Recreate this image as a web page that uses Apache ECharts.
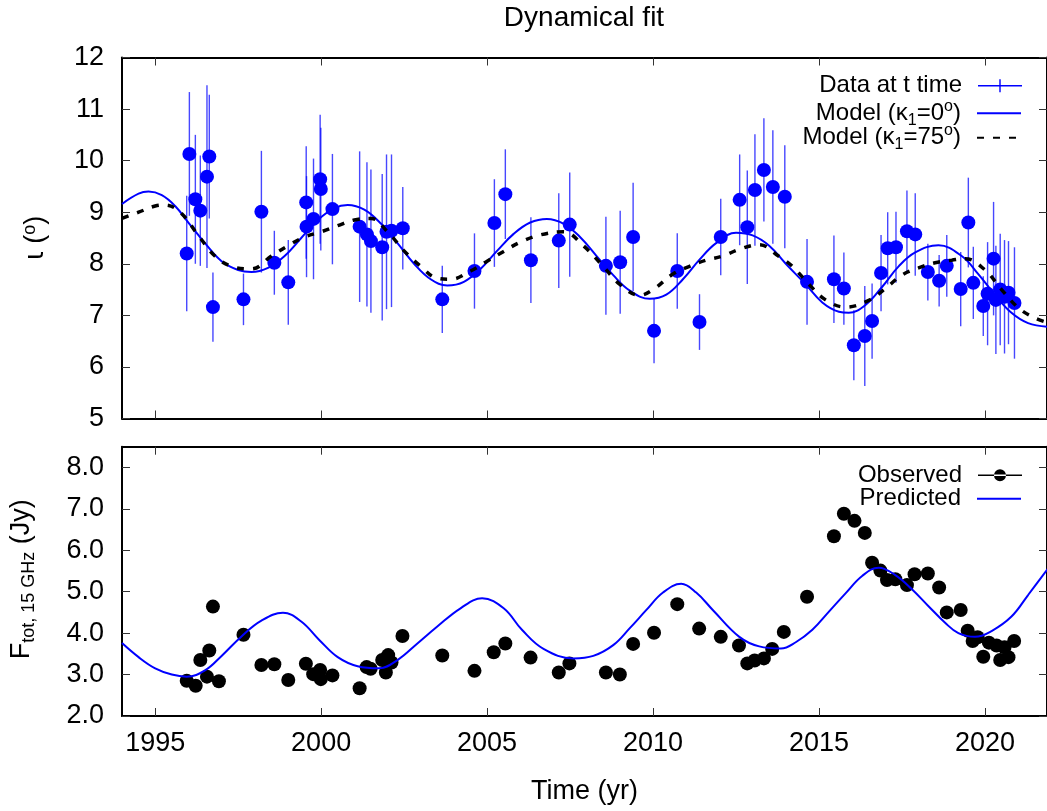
<!DOCTYPE html>
<html>
<head>
<meta charset="utf-8">
<title>Dynamical fit</title>
<script src="https://cdn.jsdelivr.net/npm/echarts@6/dist/echarts.min.js"></script>
<style>
  html, body { margin: 0; padding: 0; background: #fff; }
  #main { width: 1047px; height: 811px; }
</style>
</head>
<body>
<div id="main"></div>
<script>
// --- inclination data (top panel) ---
var yrI = [1995.95, 1996.03, 1996.21, 1996.36, 1996.56, 1996.63, 1996.74, 1997.66, 1998.20, 1998.59,
  1999.01, 1999.56, 1999.55, 1999.77, 1999.97, 1999.99, 2000.34, 2001.16, 2001.38, 2001.50,
  2001.84, 2001.97, 2002.12, 2002.46, 2003.65, 2004.62, 2005.22, 2005.55, 2006.32, 2007.16,
  2007.49, 2008.58, 2009.01, 2009.40, 2010.03, 2010.73, 2011.40, 2012.04, 2012.61, 2012.84,
  2013.07, 2013.34, 2013.61, 2013.97, 2014.64, 2015.45, 2015.75, 2016.05, 2016.38, 2016.60,
  2016.87, 2017.07, 2017.32, 2017.65, 2017.90, 2018.28, 2018.62, 2018.85, 2019.27, 2019.50,
  2019.65, 2019.95, 2020.08, 2020.26, 2020.33, 2020.46, 2020.59, 2020.71, 2020.89];
var incl = [8.20, 10.13, 9.25, 9.03, 9.69, 10.08, 7.16, 7.31, 9.01, 8.02,
  7.64, 8.72, 9.19, 8.87, 9.64, 9.45, 9.06, 8.72, 8.57, 8.44,
  8.32, 8.62, 8.64, 8.69, 7.31, 7.86, 8.79, 9.35, 8.07, 8.45,
  8.76, 7.96, 8.03, 8.52, 6.70, 7.86, 6.87, 8.52, 9.24, 8.71,
  9.43, 9.82, 9.49, 9.30, 7.65, 7.70, 7.52, 6.42, 6.60, 6.89,
  7.82, 8.30, 8.32, 8.63, 8.57, 7.84, 7.67, 7.96, 7.51, 8.80,
  7.63, 7.18, 7.42, 8.10, 7.30, 7.50, 7.36, 7.44, 7.24];
var inclErr = [1.12, 1.20, 1.25, 1.07, 1.77, 1.20, 0.67, 0.50, 1.18, 0.62,
  0.82, 0.98, 1.09, 1.17, 1.25, 1.19, 1.07, 1.46, 1.40, 1.39,
  1.42, 1.50, 1.48, 0.80, 0.65, 0.73, 0.85, 0.87, 0.83, 0.92,
  1.01, 0.95, 1.00, 1.05, 0.63, 0.73, 0.54, 0.74, 0.88, 1.10,
  1.08, 1.00, 1.10, 1.00, 0.83, 0.85, 0.70, 0.68, 0.97, 0.73,
  0.74, 0.70, 0.69, 0.79, 0.80, 0.55, 0.50, 0.60, 0.72, 0.87,
  0.70, 0.58, 1.00, 1.10, 1.05, 1.08, 1.10, 1.00, 1.08];

// model, kappa1 = 0 deg (solid blue)
var modT0 = [1994.0, 1994.5, 1994.8, 1995.2, 1995.6, 1996.0, 1996.5, 1997.0, 1997.5, 1997.9,
  1998.4, 1998.9, 1999.4, 1999.9, 2000.4, 2000.8, 2001.3, 2001.8, 2002.3, 2002.8,
  2003.3, 2003.8, 2004.3, 2004.8, 2005.3, 2005.8, 2006.3, 2006.8, 2007.3, 2007.8,
  2008.3, 2008.8, 2009.3, 2009.9, 2010.4, 2010.9, 2011.4, 2011.9, 2012.5, 2013.0,
  2013.5, 2014.0, 2014.6, 2015.1, 2015.6, 2015.9, 2016.4, 2016.9, 2017.4, 2017.9,
  2018.6, 2019.3, 2019.8, 2020.3, 2020.8, 2021.3, 2021.9];
var modI0 = [9.16, 9.36, 9.40, 9.33, 9.12, 8.80, 8.40, 8.05, 7.88, 7.84,
  7.92, 8.15, 8.50, 8.85, 9.08, 9.14, 9.05, 8.78, 8.40, 8.00,
  7.70, 7.58, 7.65, 7.90, 8.25, 8.58, 8.80, 8.87, 8.78, 8.52,
  8.15, 7.78, 7.48, 7.32, 7.40, 7.70, 8.08, 8.40, 8.60, 8.55,
  8.35, 8.00, 7.60, 7.25, 7.07, 7.05, 7.20, 7.55, 7.95, 8.22,
  8.36, 8.15, 7.80, 7.40, 7.05, 6.85, 6.78];

// model, kappa1 = 75 deg (dashed black)
var modT75 = [1994.0, 1994.5, 1995.0, 1995.3, 1995.75, 1996.3, 1996.8, 1997.3, 1997.9, 1998.5,
  1999.0, 1999.5, 2000.0, 2000.5, 2001.0, 2001.5, 2002.0, 2002.5, 2003.0, 2003.5,
  2003.9, 2004.5, 2005.0, 2005.5, 2006.0, 2006.6, 2007.3, 2007.9, 2008.5, 2009.0,
  2009.6, 2010.0, 2010.6, 2011.1, 2011.6, 2012.1, 2012.6, 2013.2, 2013.8, 2014.2,
  2014.7, 2015.2, 2015.8, 2016.5, 2017.0, 2017.5, 2018.0, 2018.5, 2019.0, 2019.4,
  2020.0, 2020.5, 2021.0, 2021.5, 2021.9];
var modI75 = [8.88, 9.00, 9.12, 9.14, 9.00, 8.55, 8.15, 7.95, 7.90, 8.15,
  8.35, 8.52, 8.62, 8.74, 8.85, 8.88, 8.62, 8.25, 7.95, 7.72,
  7.70, 7.86, 8.05, 8.24, 8.42, 8.56, 8.62, 8.35, 7.95, 7.60,
  7.39, 7.50, 7.80, 7.95, 8.07, 8.15, 8.28, 8.37, 8.14, 7.95,
  7.60, 7.30, 7.16, 7.29, 7.52, 7.78, 7.92, 8.02, 8.07, 8.10,
  7.88, 7.50, 7.15, 6.95, 6.86];

// --- flux density (bottom panel) ---
var yrF = [1995.95, 1996.22, 1996.56, 1996.36, 1996.63, 1996.74, 1996.92, 1997.66, 1998.20, 1998.59,
  1999.01, 1999.54, 1999.76, 1999.97, 1999.99, 2000.34, 2001.16, 2001.37, 2001.49, 2001.84,
  2002.02, 2002.12, 2001.95, 2002.45, 2003.65, 2004.62, 2005.20, 2005.55, 2006.31, 2007.16,
  2007.48, 2008.58, 2009.00, 2009.40, 2010.03, 2010.73, 2011.39, 2012.04, 2012.59, 2012.84,
  2013.06, 2013.34, 2013.59, 2013.94, 2014.64, 2015.45, 2015.75, 2016.07, 2016.38, 2016.60,
  2016.85, 2017.05, 2017.30, 2017.65, 2017.88, 2018.28, 2018.62, 2018.85, 2019.27, 2019.48,
  2019.63, 2019.78, 2019.95, 2020.12, 2020.35, 2020.46, 2020.59, 2020.71, 2020.88];
var flux = [2.85, 2.73, 2.95, 3.35, 3.58, 4.64, 2.84, 3.96, 3.23, 3.25,
  2.87, 3.26, 3.01, 3.11, 2.89, 2.98, 2.67, 3.18, 3.14, 3.35,
  3.47, 3.29, 3.05, 3.93, 3.46, 3.09, 3.54, 3.75, 3.41, 3.05,
  3.27, 3.05, 3.00, 3.74, 4.01, 4.70, 4.11, 3.91, 3.70, 3.27,
  3.34, 3.39, 3.62, 4.03, 4.88, 6.34, 6.88, 6.71, 6.42, 5.70,
  5.51, 5.28, 5.30, 5.16, 5.42, 5.44, 5.10, 4.50, 4.56, 4.06,
  3.81, 3.90, 3.43, 3.77, 3.70, 3.35, 3.66, 3.42, 3.81];

// predicted flux (blue)
var predT = [1994.0, 1994.5, 1995.0, 1995.5, 1995.95, 1996.5, 1997.0, 1997.6, 1998.2, 1998.85,
  1999.4, 1999.95, 2000.5, 2001.1, 2001.75, 2002.3, 2002.9, 2003.5, 2004.2, 2004.85,
  2005.5, 2006.05, 2006.7, 2007.6, 2008.2, 2008.8, 2009.3, 2009.8, 2010.3, 2010.85,
  2011.3, 2011.8, 2012.6, 2013.2, 2013.85, 2014.3, 2014.8, 2015.3, 2015.8, 2016.3,
  2016.8, 2017.3, 2017.8, 2018.3, 2018.8, 2019.2, 2019.7, 2020.2, 2020.8, 2021.3, 2021.9];
var predF = [3.76, 3.42, 3.15, 3.00, 2.95, 3.10, 3.45, 3.92, 4.30, 4.49,
  4.28, 3.83, 3.42, 3.20, 3.15, 3.35, 3.75, 4.16, 4.60, 4.84,
  4.60, 4.08, 3.62, 3.39, 3.45, 3.71, 4.12, 4.56, 4.98, 5.19,
  4.98, 4.56, 3.91, 3.68, 3.63, 3.78, 4.08, 4.52, 4.96, 5.38,
  5.58, 5.40, 5.06, 4.65, 4.25, 4.00, 3.91, 4.05, 4.40, 4.92, 5.56];

var yearTicks = [1995, 2000, 2005, 2010, 2015, 2020];
var inclTicks = [5, 6, 7, 8, 9, 10, 11, 12];
var fluxTicks = [2, 3, 4, 5, 6, 7, 8];

var FONT = 'Liberation Sans, Arial, Helvetica, sans-serif';
var BLUE = '#0000ff';

function pairs(xs, ys) {
  return xs.map(function (x, i) { return [x, ys[i]]; });
}

var errData = yrI.map(function (x, i) { return [x, incl[i] - inclErr[i], incl[i] + inclErr[i]]; });

function renderErr(params, api) {
  var top = api.coord([api.value(0), api.value(2)]);
  var bot = api.coord([api.value(0), api.value(1)]);
  return {
    type: 'line',
    shape: { x1: top[0], y1: top[1], x2: bot[0], y2: bot[1] },
    style: { stroke: 'rgba(0,0,255,0.72)', lineWidth: 1.4 }
  };
}

// axis helpers
function xAx(grid, pos, labels) {
  return {
    type: 'value', gridIndex: grid, position: pos,
    min: 1994, max: 2021.87,
    axisLine: { show: true, onZero: false, lineStyle: { color: '#000', width: 2 } },
    axisTick: { show: true, inside: true, length: 8, customValues: yearTicks,
      lineStyle: { color: '#333', width: 1 } },
    axisLabel: { show: labels, customValues: yearTicks, margin: 14,
      fontSize: 27, fontFamily: FONT, color: '#000',
      formatter: function (v) { return String(v); } },
    splitLine: { show: false }
  };
}
function yAx(grid, pos, min, max, ticks, labels, fmt) {
  return {
    type: 'value', gridIndex: grid, position: pos,
    min: min, max: max,
    axisLine: { show: true, onZero: false, lineStyle: { color: '#000', width: 2 } },
    axisTick: { show: true, inside: true, length: 8, customValues: ticks,
      lineStyle: { color: '#333', width: 1 } },
    axisLabel: { show: labels, customValues: ticks, margin: 18,
      fontSize: 27, fontFamily: FONT, color: '#000', formatter: fmt },
    splitLine: { show: false }
  };
}

var richTxt = {
  n: { fontSize: 24, fontFamily: FONT, color: '#000', lineHeight: 30 },
  s: { fontSize: 16, fontFamily: FONT, color: '#000', lineHeight: 16, verticalAlign: 'bottom' },
  p: { fontSize: 16, fontFamily: FONT, color: '#000', lineHeight: 16, verticalAlign: 'top' }
};
var labelMap = {
  'Data at t time': '{n|Data at t time}',
  'Model (k1=0)': '{n|Model (κ}{s|1}{n|=0}{p|o}{n|)}',
  'Model (k1=75)': '{n|Model (κ}{s|1}{n|=75}{p|o}{n|)}',
  'Observed': '{n|Observed}',
  'Predicted': '{n|Predicted}'
};
function legendRow(item, top, h, hideSymbol) {
  var lg = {
    data: [item], orient: 'horizontal', align: 'right',
    right: 25, top: top, padding: 0,
    itemWidth: 44, itemHeight: h,
    formatter: function (name) { return labelMap[name]; },
    textStyle: { fontSize: 24, fontFamily: FONT, color: '#000', padding: [0, 11, 0, 0], rich: richTxt }
  };
  if (hideSymbol) lg.itemStyle = { opacity: 0 };
  return lg;
}

var chart = echarts.init(document.getElementById('main'), null, { renderer: 'canvas' });
chart.setOption({
  animation: false,
  backgroundColor: '#fff',
  title: {
    text: 'Dynamical fit', left: 584, top: 4, textAlign: 'center', padding: 0,
    textStyle: { fontSize: 28, fontWeight: 'normal', fontFamily: FONT, color: '#000' }
  },
  grid: [
    { left: 122, right: -2, top: 57.5, height: 361 },
    { left: 122, right: -2, top: 446.7, height: 269.3 }
  ],
  xAxis: [
    xAx(0, 'bottom', false),
    xAx(0, 'top', false),
    Object.assign(xAx(1, 'bottom', true), {
      name: 'Time (yr)', nameLocation: 'middle', nameGap: 62,
      nameTextStyle: { fontSize: 27, fontFamily: FONT, color: '#000' }
    }),
    xAx(1, 'top', false)
  ],
  yAxis: [
    Object.assign(yAx(0, 'left', 5, 12, inclTicks, true), {
      name: '{g|ι}{n| (}{p|o}{n|)}', nameLocation: 'middle', nameRotate: 90, nameGap: 71,
      nameTextStyle: { rich: {
        g: { fontSize: 27, fontFamily: 'DejaVu Sans', color: '#000', lineHeight: 30 },
        n: { fontSize: 27, fontFamily: FONT, color: '#000', lineHeight: 30 },
        p: { fontSize: 18, fontFamily: FONT, color: '#000', lineHeight: 18, verticalAlign: 'top' }
      } }
    }),
    yAx(0, 'right', 5, 12, inclTicks, false),
    Object.assign(yAx(1, 'left', 2, 8.5, fluxTicks, true, function (v) { return v.toFixed(1); }), {
      name: '{n|F}{s|tot, 15 GHz}{n| (Jy)}', nameLocation: 'middle', nameRotate: 90, nameGap: 84,
      nameTextStyle: { padding: [0, 0, 0, 4], rich: {
        n: { fontSize: 27, fontFamily: FONT, color: '#000', lineHeight: 32 },
        s: { fontSize: 18, fontFamily: FONT, color: '#000', lineHeight: 18, verticalAlign: 'bottom' }
      } }
    }),
    yAx(1, 'right', 2, 8.5, fluxTicks, false)
  ],
  legend: [
    legendRow({ name: 'Data at t time', icon: 'path://M0,5.8H44V7.2H0Z M21.3,0H22.7V13H21.3Z',
      itemStyle: { color: BLUE } }, 73.8, 13),
    legendRow('Model (k1=0)', 98.3, 14, true),
    legendRow('Model (k1=75)', 122.7, 14, true),
    legendRow({ name: 'Observed', icon: 'path://M0,5.3H44V6.7H0Z M16,6A6,6 0 1,0 28,6A6,6 0 1,0 16,6Z',
      itemStyle: { color: '#000' } }, 463.3, 12),
    legendRow('Predicted', 486.7, 14, true)
  ],
  series: [
    {
      name: 'Data at t time', type: 'custom', xAxisIndex: 0, yAxisIndex: 0,
      renderItem: renderErr, data: errData, encode: { x: 0, y: [1, 2] },
      itemStyle: { color: BLUE }, z: 2
    },
    {
      name: 'Data at t time', type: 'scatter', xAxisIndex: 0, yAxisIndex: 0,
      data: pairs(yrI, incl), symbolSize: 14, itemStyle: { color: BLUE, opacity: 1 }, z: 3
    },
    {
      name: 'Model (k1=0)', type: 'line', xAxisIndex: 0, yAxisIndex: 0,
      data: pairs(modT0, modI0), smooth: 0.4, symbol: 'none',
      lineStyle: { color: BLUE, width: 2 }, itemStyle: { color: BLUE }, z: 4
    },
    {
      name: 'Model (k1=75)', type: 'line', xAxisIndex: 0, yAxisIndex: 0,
      data: pairs(modT75, modI75), smooth: 0.4, symbol: 'none',
      lineStyle: { color: '#000', width: 3.5, type: [7, 9] }, itemStyle: { color: '#000' }, z: 5
    },
    {
      name: 'Observed', type: 'scatter', xAxisIndex: 2, yAxisIndex: 2,
      data: pairs(yrF, flux), symbolSize: 14, itemStyle: { color: '#000', opacity: 1 }, z: 3
    },
    {
      name: 'Predicted', type: 'line', xAxisIndex: 2, yAxisIndex: 2,
      data: pairs(predT, predF), smooth: 0.4, symbol: 'none',
      lineStyle: { color: BLUE, width: 2 }, itemStyle: { color: BLUE }, z: 4
    }
  ]
});
</script>
</body>
</html>
